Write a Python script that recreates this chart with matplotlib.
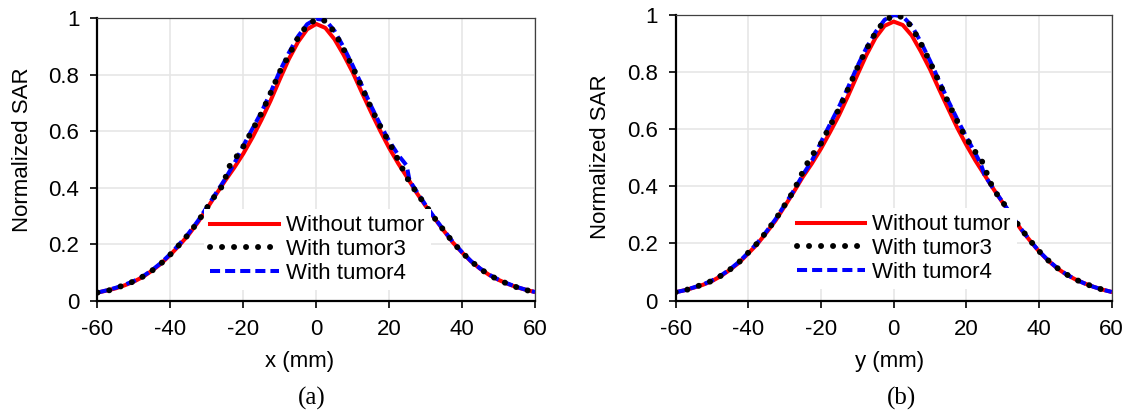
import matplotlib
matplotlib.use('Agg')
import matplotlib.pyplot as plt
from matplotlib.ticker import FuncFormatter

plt.rcParams['font.family'] = ['Liberation Sans', 'DejaVu Sans']
plt.rcParams['axes.unicode_minus'] = False

# ---- data ----
x_grid = [-60, -57.5, -55, -52.5, -50, -47.5, -45, -42.5, -40, -37.5, -35, -32.5,
          -30, -27.5, -25, -22.5, -20, -17.5, -15, -12.5, -10, -7.5, -5, -2.5,
          0, 2.5, 5, 7.5, 10, 12.5, 15, 17.5, 20, 22.5, 25, 27.5, 30, 32.5,
          35, 37.5, 40, 42.5, 45, 47.5, 50, 52.5, 55, 57.5, 60]

# (a) x direction
red_a = [0.028, 0.035, 0.043, 0.054, 0.067, 0.084, 0.106, 0.131, 0.162, 0.196, 0.233, 0.276,
         0.325, 0.375, 0.424, 0.470, 0.520, 0.577, 0.640, 0.708, 0.783, 0.855, 0.915, 0.960,
         0.979, 0.965, 0.925, 0.870, 0.808, 0.737, 0.668, 0.602, 0.540, 0.485, 0.435, 0.382,
         0.335, 0.290, 0.247, 0.205, 0.170, 0.138, 0.112, 0.090, 0.073, 0.059, 0.047, 0.038, 0.030]

x_black_a = [-60, -57.5, -55, -52.5, -50, -47.5, -45, -42.5, -40, -37.5, -35, -32.5,
             -30, -27.5, -25, -24.6, -22.5, -20, -17.5, -15, -12.5, -10, -7.5, -5, -2.5,
             0, 2.5, 5, 7.5, 10, 12.5, 15, 17.5, 20, 22.5, 25, 27.5, 30, 32.5,
             35, 37.5, 40, 42.5, 45, 47.5, 50, 52.5, 55, 57.5, 60]
black_a = [0.028, 0.033, 0.044, 0.055, 0.068, 0.085, 0.106, 0.132, 0.163, 0.198, 0.235, 0.278,
           0.328, 0.376, 0.418, 0.462, 0.497, 0.545, 0.604, 0.663, 0.735, 0.810, 0.868, 0.930, 0.975,
           0.995, 0.990, 0.950, 0.890, 0.826, 0.755, 0.683, 0.618, 0.560, 0.497, 0.432, 0.382,
           0.337, 0.291, 0.248, 0.206, 0.170, 0.139, 0.112, 0.090, 0.073, 0.059, 0.047, 0.037, 0.030]

x_blue_a = [-60, -57.5, -55, -52.5, -50, -47.5, -45, -42.5, -40, -37.5, -35, -32.5,
            -30, -27.5, -25, -22.5, -20, -17.5, -15, -12.5, -10, -7.5, -5, -2.5,
            0, 2.5, 5, 7.5, 10, 12.5, 15, 17.5, 20, 22.5, 24.8, 25.6, 27.5, 30, 32.5,
            35, 37.5, 40, 42.5, 45, 47.5, 50, 52.5, 55, 57.5, 60]
blue_a = [0.028, 0.036, 0.045, 0.056, 0.069, 0.086, 0.108, 0.134, 0.165, 0.200, 0.238, 0.281,
          0.330, 0.380, 0.430, 0.485, 0.548, 0.608, 0.668, 0.737, 0.812, 0.877, 0.935, 0.978,
          0.997, 0.993, 0.955, 0.897, 0.832, 0.762, 0.690, 0.624, 0.565, 0.515, 0.478, 0.425, 0.387,
          0.338, 0.292, 0.249, 0.207, 0.171, 0.139, 0.113, 0.091, 0.074, 0.060, 0.048, 0.038, 0.030]

# (b) y direction
red_b = [0.029, 0.036, 0.045, 0.055, 0.068, 0.086, 0.108, 0.133, 0.165, 0.198, 0.238, 0.280,
         0.330, 0.380, 0.433, 0.480, 0.532, 0.590, 0.650, 0.718, 0.790, 0.860, 0.920, 0.962,
         0.977, 0.965, 0.928, 0.872, 0.810, 0.740, 0.672, 0.605, 0.545, 0.490, 0.440, 0.390,
         0.343, 0.296, 0.250, 0.210, 0.172, 0.140, 0.113, 0.091, 0.074, 0.060, 0.048, 0.038, 0.030]

x_black_b = [-60, -57.5, -55, -52.5, -50, -47.5, -45, -42.5, -40, -37.5, -35, -32.5,
             -30, -27.5, -26.1, -24.3, -22.5, -20, -17.5, -15, -12.5, -10, -7.5, -5, -2.5,
             0, 2.5, 5, 7.5, 10, 12.5, 15, 17.5, 19.7, 22.5, 23.7, 25.2, 26, 27.7, 30, 32.5,
             35, 37.5, 40, 42.5, 45, 47.5, 50, 52.5, 55, 57.5, 60]
black_b = [0.029, 0.035, 0.046, 0.056, 0.069, 0.087, 0.109, 0.135, 0.168, 0.201, 0.241, 0.284,
           0.334, 0.384, 0.422, 0.469, 0.508, 0.550, 0.612, 0.672, 0.742, 0.815, 0.880, 0.938, 0.980,
           0.998, 0.993, 0.958, 0.900, 0.836, 0.765, 0.694, 0.628, 0.574, 0.520, 0.504, 0.463, 0.430, 0.385,
           0.345, 0.298, 0.252, 0.211, 0.173, 0.141, 0.114, 0.092, 0.074, 0.060, 0.048, 0.038, 0.030]

x_blue_b = [-60, -57.5, -55, -52.5, -50, -47.5, -45, -42.5, -40, -37.5, -35, -32.5,
            -30, -27.5, -25, -22.5, -20, -17.5, -15, -12.5, -10, -7.5, -5, -2.5,
            0, 2.5, 5, 7.5, 10, 12.5, 15, 17.5, 20, 22.5, 24, 25, 27.5, 30, 32.5,
            35, 37.5, 40, 42.5, 45, 47.5, 50, 52.5, 55, 57.5, 60]
blue_b = [0.029, 0.036, 0.046, 0.056, 0.070, 0.088, 0.110, 0.136, 0.168, 0.202, 0.242, 0.285,
          0.335, 0.385, 0.440, 0.490, 0.555, 0.618, 0.680, 0.748, 0.820, 0.885, 0.940, 0.983,
          1.000, 0.995, 0.962, 0.905, 0.840, 0.770, 0.700, 0.635, 0.573, 0.515, 0.478, 0.440, 0.390,
          0.345, 0.298, 0.252, 0.211, 0.173, 0.141, 0.114, 0.092, 0.074, 0.060, 0.048, 0.038, 0.030]

labels = ['Without tumor', 'With tumor3', 'With tumor4']
x_ticks = [-60, -40, -20, 0, 20, 40, 60]
y_ticks = [0, 0.2, 0.4, 0.6, 0.8, 1]

panels = [
    dict(red=(x_grid, red_a), black=(x_black_a, black_a), blue=(x_blue_a, blue_a),
         rect=[0.0862, 0.2811, 0.3868, 0.6758], xlabel='x (mm)', cap='(a)',
         xl=300, yl=(22, 150), leg_x=0.243),
    dict(red=(x_grid, red_b), black=(x_black_b, black_b), blue=(x_blue_b, blue_b),
         rect=[0.5974, 0.2811, 0.3855, 0.6830], xlabel='y (mm)', cap='(b)',
         xl=890, yl=(601, 157), leg_x=0.262),
]

W, H = 1131, 418
fig = plt.figure(figsize=(W / 100, H / 100), dpi=100)

for p in panels:
    ax = fig.add_axes(p['rect'])
    ax.plot(*p['red'], color='#ff0000', lw=2.9, label=labels[0], zorder=2)
    ax.plot(*p['black'], color='black', lw=4.3, linestyle=(0, (0.01, 2.0)),
            dash_capstyle='round', label=labels[1], zorder=4)
    ax.plot(*p['blue'], color='#0000ff', lw=2.9, linestyle=(0, (2.5, 1.25)),
            label=labels[2], zorder=3)

    ax.set_xlim(-60, 60)
    ax.set_ylim(0, 1)
    ax.set_xticks(x_ticks)
    ax.set_yticks(y_ticks)
    ax.yaxis.set_major_formatter(FuncFormatter(lambda v, pos: '%g' % v))
    ax.grid(True, color='#e6e6e6', lw=1.2, zorder=0)
    ax.set_axisbelow(True)
    ax.tick_params(direction='out', length=5, width=1.2, labelsize=16, pad=8)

    for side in ['left', 'bottom']:
        ax.spines[side].set_linewidth(1.6)
        ax.spines[side].set_color('black')
    for side in ['top', 'right']:
        ax.spines[side].set_linewidth(0.9)
        ax.spines[side].set_color('#404040')

    leg = ax.legend(loc='upper left', bbox_to_anchor=(p['leg_x'], 0.325),
                    borderaxespad=0, fontsize=16, frameon=True, fancybox=False,
                    framealpha=1, edgecolor='none', handlelength=3.1,
                    handletextpad=0.3, labelspacing=0.12, borderpad=0.3)
    leg.set_zorder(10)

    fig.text(p['xl'] / W, 1 - 362 / H, p['xlabel'], ha='center', va='center', fontsize=16)
    fig.text(p['xl'] / W + 0.01, 1 - 398 / H, p['cap'], ha='center', va='center',
             fontsize=18, family='Liberation Serif')
    fig.text(p['yl'][0] / W, 1 - p['yl'][1] / H, 'Normalized SAR', rotation=90,
             ha='center', va='center', fontsize=16)

fig.savefig('out.png', dpi=100)
plt.close(fig)
